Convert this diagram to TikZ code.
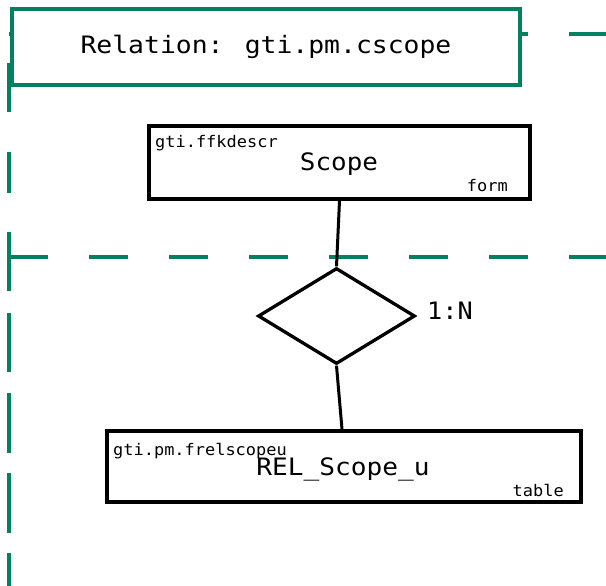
\documentclass[tikz,border=0pt]{standalone}
\usepackage{fontspec}
\usepackage{graphicx}
\newfontfamily\dmono{DejaVu Sans Mono}
\usetikzlibrary{shapes.geometric}
\definecolor{lane}{RGB}{0,129,96}
\newcommand\hstr[2]{\scalebox{#1}[1]{#2}}
\begin{document}
\begin{tikzpicture}[x=1pt,y=-1pt,
  lanedash/.style={draw=lane,line width=3.3pt,dash pattern=on 39pt off 41pt},
  lanev/.style={draw=lane,line width=3.3pt},
  titlebox/.style={draw=lane,line width=3.3pt,rectangle,fill=white,inner sep=0pt},
  entity/.style={draw=black,line width=3.8pt,rectangle,fill=white,inner sep=0pt},
  relbox/.style={draw=black,line width=3.3pt,diamond,inner sep=0pt,fill=white},
  big/.style={font=\dmono\fontsize{24}{27}\selectfont,inner sep=0pt},
  small/.style={font=\dmono\fontsize{16}{18}\selectfont,inner sep=0pt},
  conn/.style={draw=black,line width=3pt}]
\useasboundingbox (0,0) rectangle (606,586);
% swimlane boundaries
\draw[lanedash] (9,34) -- (606,34);
\draw[lanedash] (9,257) -- (606,257);
\foreach \a/\b in {63/112,152/193,232/291,313/372,393/453,473/533,553/586}
  \draw[lanev] (9,\a) -- (9,\b);
% title
\node[titlebox,minimum width=508pt,minimum height=76pt] (title) at (266,47) {};
\node[big] (titletext) at (266,47) {\hstr{1.1}{Relation: gti.pm.cscope}};
% entities
\node[entity,minimum width=381pt,minimum height=73pt] (scope) at (339.5,162.5) {};
\node[small,anchor=base west] (scopeowner) at (155,148) {\hstr{1.06}{gti.ffkdescr}};
\node[big,anchor=base] (scopename) at (339,171) {\hstr{1.08}{Scope}};
\node[small,anchor=base east] (scopetype) at (508,191) {\hstr{1.06}{form}};
\node[entity,minimum width=474pt,minimum height=71pt] (rel) at (344,466.5) {};
\node[small,anchor=base west] (relowner) at (113,455) {\hstr{1.06}{gti.pm.frelscopeu}};
\node[big,anchor=base] (relname) at (343,475) {\hstr{1.09}{REL\_Scope\_u}};
\node[small,anchor=base east] (reltype) at (564,496) {\hstr{1.06}{table}};
% relationship
\node[relbox,minimum width=157pt,minimum height=96pt] (dia) at (336.5,316) {};
\node[big,anchor=west] (card) at (427,311) {\hstr{1.05}{1:N}};
\draw[conn] ([xshift=0pt]scope.south) -- (dia.north);
\draw[conn] (dia.south) -- ([xshift=-2pt]rel.north);
\end{tikzpicture}
\end{document}
